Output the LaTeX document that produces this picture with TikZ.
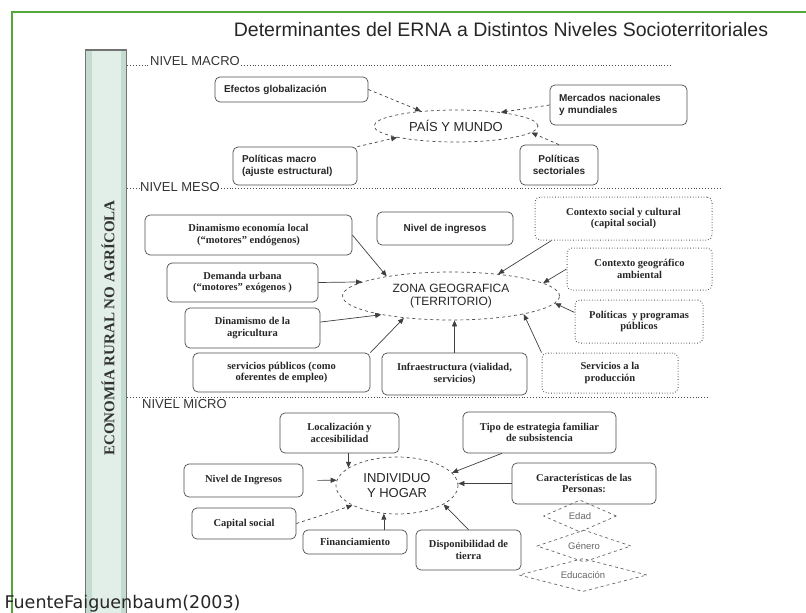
\documentclass[tikz,border=0pt]{standalone}
\usepackage{fontspec}
\setmainfont{Liberation Serif}
\setsansfont{Liberation Sans}
\newfontfamily\fuentefont{DejaVu Sans}
\usetikzlibrary{arrows.meta,shapes.geometric,positioning}

\definecolor{marco}{RGB}{84,168,58}
\definecolor{barfill}{RGB}{196,220,207}
\definecolor{barinner}{RGB}{226,239,232}

\begin{document}
\begin{tikzpicture}[x=1pt,y=-1pt,>={Triangle[length=6pt,width=5pt]},
  box/.style    ={draw=black!70,rounded corners=5pt,line width=0.7pt,inner sep=2pt,align=center,
                  font=\fontsize{10.5}{11.5}\selectfont\bfseries,text=black!85},
  dotbox/.style ={box,dotted,line width=1pt},
  macbox/.style ={box,align=left,inner xsep=9pt,font=\sffamily\fontsize{10}{11.5}\selectfont\bfseries},
  elli/.style   ={ellipse,draw=black!70,dashed,line width=0.7pt,inner sep=0pt,align=center,text=black!85},
  rombo/.style  ={diamond,draw=black!60,dashed,line width=0.7pt,inner sep=0pt,aspect=3,
                  font=\sffamily\fontsize{9.5}{10}\selectfont,text=black!60},
  nivel/.style  ={font=\sffamily\fontsize{13}{14}\selectfont,text=black!80,inner sep=1pt},
  nline/.style  ={dotted,line width=0.9pt,black!70},
  arr/.style    ={->,draw=black!75,line width=0.7pt}]
  \useasboundingbox (0,0) rectangle (806,613);

  % marco y barra lateral
  \draw[marco,line width=1.6pt] (12,630) |- (830,12);
  \node[draw=black!55,line width=1.2pt,fill=barfill,minimum width=41,minimum height=580,inner sep=0pt,
        path picture={\fill[barinner] ([xshift=6]path picture bounding box.north west)
                      rectangle ([xshift=-6]path picture bounding box.south east);}]
        (barra) at (106,340) {};
  \node[rotate=90,font=\fontsize{15}{16}\selectfont\bfseries,text=black!80] (barlabel) at (108,328) {ECONOMÍA RURAL NO AGRÍCOLA};

  \node[font=\sffamily\fontsize{19.5}{22}\selectfont,text=black!85] (titulo) at (501,30)
       {Determinantes del ERNA a Distintos Niveles Socioterritoriales};

  % niveles
  \coordinate (macroend) at (671,65);
  \coordinate (mesoend)  at (720,188);
  \coordinate (microend) at (710,397);
  \node[nivel,anchor=base west] (macro) at (149,65)  {NIVEL MACRO};
  \node[nivel,anchor=base west] (meso)  at (139,191) {NIVEL MESO};
  \node[nivel,anchor=west]      (micro) at (141,404) {NIVEL MICRO};
  \draw[nline] (barra.east |- macroend) -- (macro.west |- macroend) (macro.east |- macroend) -- (macroend);
  \draw[nline] (barra.east |- mesoend) -- (meso.west |- mesoend) (meso.east |- mesoend) -- (mesoend);
  \draw[nline] (barra.east |- microend) -- (microend);

  % nivel macro
  \node[elli,minimum width=164,minimum height=32,font=\sffamily\fontsize{13}{14}\selectfont] (pais) at (456,126) {PAÍS Y MUNDO};
  \node[macbox,text width=135,minimum height=25] (efectos)  at (291.5,89.5) {Efectos globalización};
  \node[macbox,text width=119,minimum height=40] (mercados) at (618.5,105)  {Mercados nacionales\\y mundiales};
  \node[macbox,text width=106,minimum height=38] (pmacro)   at (295,166)    {Políticas macro\\(ajuste estructural)};
  \node[box,font=\sffamily\fontsize{10}{11.5}\selectfont\bfseries,minimum width=78,minimum height=40] (psect) at (559,165) {Políticas\\sectoriales};

  \path (efectos.east)      edge [arr,dashed] (pais.157);
  \path (mercados.west)     edge [arr,dashed] (pais.17);
  \path (pmacro.north east) edge [arr,dashed] (pais.191);
  \path (psect.north)       edge [arr,dashed] (pais.-5);

  % nivel meso
  \node[elli,minimum width=217,minimum height=48,font=\sffamily\fontsize{12}{13}\selectfont] (zona) at (451,296) {ZONA GEOGRAFICA\\(TERRITORIO)};
  \node[box,minimum width=207,minimum height=40] (dinlocal) at (248.5,235) {Dinamismo economía local\\(``motores'' endógenos)};
  \node[box,minimum width=151,minimum height=39] (demanda)  at (242.5,282.5) {Demanda urbana\\(``motores'' exógenos )};
  \node[box,minimum width=135,minimum height=40] (dinagri)  at (252.5,328) {Dinamismo de la\\agricultura};
  \node[box,minimum width=177,minimum height=39] (serpub)   at (281.5,372.5) {servicios públicos (como\\oferentes de empleo)};
  \node[box,font=\sffamily\fontsize{10}{11.5}\selectfont\bfseries,minimum width=136,minimum height=33] (ningmeso) at (445,228.5) {Nivel de ingresos};
  \node[box,minimum width=145,minimum height=42] (infra)    at (454.5,374) {Infraestructura (vialidad,\\servicios)};
  \node[dotbox,minimum width=177,minimum height=43] (ctxsoc)   at (623.5,218.5) {Contexto social y cultural\\(capital social)};
  \node[dotbox,minimum width=145,minimum height=42] (ctxgeo)   at (639.5,269) {Contexto geográfico\\ambiental};
  \node[dotbox,minimum width=128,minimum height=43] (pprog)    at (639,321.5) {Políticas~ y programas\\públicos};
  \node[dotbox,minimum width=136,minimum height=40] (servprod) at (610,373) {Servicios a la\\producción};

  \path (dinlocal.east)       edge [arr] (zona.163);
  \path (demanda.east)        edge [arr] (zona.171);
  \path (dinagri.5)           edge [arr] (zona.195);
  \path (serpub.north east)   edge [arr] (zona.205);
  \path (ctxsoc.197)          edge [arr] (zona.25);
  \path (ctxgeo.west)         edge [arr] (zona.8);
  \path (pprog.172)           edge [arr] (zona.-4);
  \path (servprod.north west) edge [arr] (zona.-14);
  \path (infra.north)         edge [arr] (infra.north |- zona.south);

  % nivel micro
  \node[elli,minimum width=122,minimum height=57,font=\sffamily\fontsize{13}{15}\selectfont] (indiv) at (397,485.5) {INDIVIDUO\\Y HOGAR};
  \node[box,minimum width=119,minimum height=40] (locali)  at (339.5,433) {Localización y\\accesibilidad};
  \node[box,minimum width=119,minimum height=33] (ningmic) at (243.5,480.5) {Nivel de Ingresos};
  \node[box,minimum width=104,minimum height=31] (capsoc)  at (244,523.5) {Capital social};
  \node[box,minimum width=104,minimum height=24] (financ)  at (355,542) {Financiamiento};
  \node[box,minimum width=105,minimum height=40] (dispo)   at (468.5,550) {Disponibilidad de\\tierra};
  \node[box,minimum width=153,minimum height=41] (tipo)    at (539.5,432.5) {Tipo de estrategia familiar\\de subsistencia};
  \node[box,minimum width=144,minimum height=41] (caract)  at (584,483.5) {Características de las\\Personas:};
  \node[rombo,minimum width=73,minimum height=32]  (edad)   at (580,516) {Edad};
  \node[rombo,minimum width=94,minimum height=32]  (genero) at (584,546) {Género};
  \node[rombo,minimum width=128,minimum height=33] (educ)   at (583,575) {Educación};

  \path (locali.south -| indiv.160)  edge [arr] (indiv.160);
  \path (ningmic.east)               edge [arr,shorten <=14pt] (indiv.175);
  \path (capsoc.east)                edge [arr,dashed] (indiv.204);
  \path (financ.north -| indiv.245)  edge [arr] (indiv.245);
  \path (dispo.north)                edge [arr] (indiv.-22);
  \path (tipo.209)                   edge [arr] (indiv.13);
  \path (caract.west)                edge [arr] (caract.west -| indiv.east);

  \node[anchor=base west,font=\fuentefont\fontsize{17.5}{18}\selectfont,text=black!85] (fuente) at (1,608) {FuenteFaiguenbaum(2003)};
\end{tikzpicture}
\end{document}
